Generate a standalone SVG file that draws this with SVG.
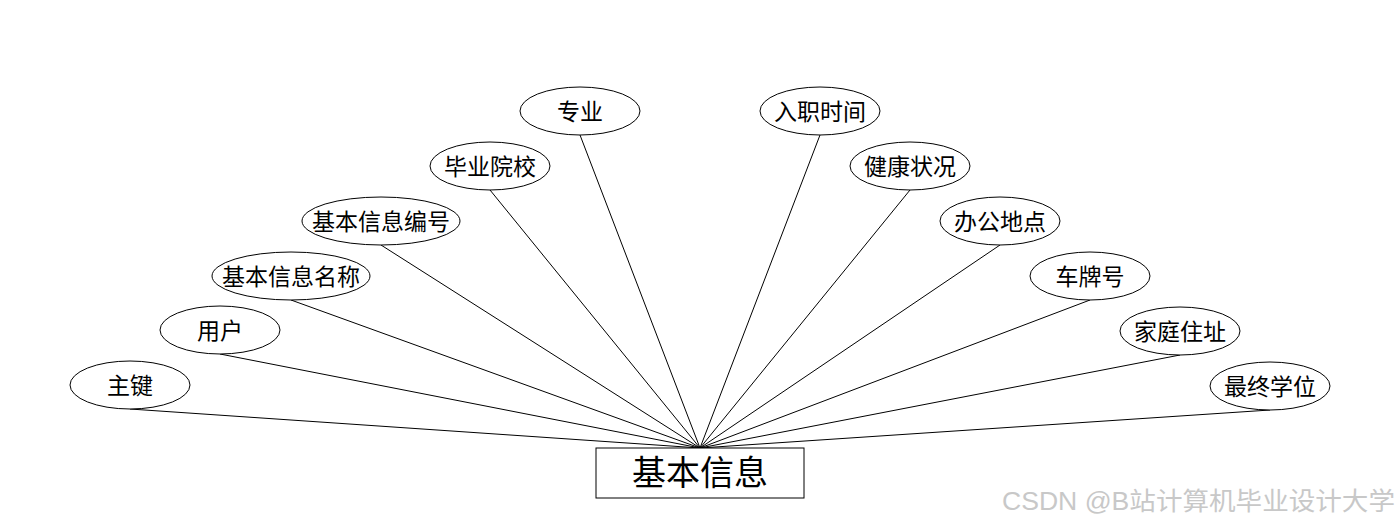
<svg xmlns="http://www.w3.org/2000/svg" width="1400" height="528" viewBox="0 0 1400 528">
<style>
.e{fill:#fff;stroke:#000;stroke-width:1}
.t{font-family:"Liberation Sans","Noto Sans CJK SC",sans-serif;font-size:23px;fill:#000;text-anchor:middle;dominant-baseline:central}
.c{stroke:#000;stroke-width:1;fill:none}
</style>
<rect width="1400" height="528" fill="#fff"/>
<g id="connectors">
<line class="c" x1="130" y1="409" x2="700" y2="448"/>
<line class="c" x1="220" y1="354" x2="700" y2="448"/>
<line class="c" x1="291" y1="300" x2="700" y2="448"/>
<line class="c" x1="381" y1="245" x2="700" y2="448"/>
<line class="c" x1="490" y1="190" x2="700" y2="448"/>
<line class="c" x1="580" y1="135" x2="700" y2="448"/>
<line class="c" x1="820" y1="135" x2="700" y2="448"/>
<line class="c" x1="910" y1="190" x2="700" y2="448"/>
<line class="c" x1="1000" y1="245" x2="700" y2="448"/>
<line class="c" x1="1090" y1="300" x2="700" y2="448"/>
<line class="c" x1="1180" y1="355" x2="700" y2="448"/>
<line class="c" x1="1270" y1="410" x2="700" y2="448"/>
</g>
<g id="n-main"><rect x="596" y="448" width="208" height="50" fill="#fff" stroke="#000"/><text x="700" y="473" class="t" style="font-size:34px">基本信息</text></g>
<g id="n1"><ellipse class="e" cx="130" cy="385" rx="60" ry="24"/><text class="t" x="130" y="386">主键</text></g>
<g id="n2"><ellipse class="e" cx="220" cy="330" rx="60" ry="24"/><text class="t" x="220" y="331">用户</text></g>
<g id="n3"><ellipse class="e" cx="291" cy="276" rx="79" ry="24"/><text class="t" x="291" y="277">基本信息名称</text></g>
<g id="n4"><ellipse class="e" cx="381" cy="221" rx="79" ry="24"/><text class="t" x="381" y="222">基本信息编号</text></g>
<g id="n5"><ellipse class="e" cx="490" cy="166" rx="60" ry="24"/><text class="t" x="490" y="167">毕业院校</text></g>
<g id="n6"><ellipse class="e" cx="580" cy="111" rx="60" ry="24"/><text class="t" x="580" y="112">专业</text></g>
<g id="n7"><ellipse class="e" cx="820" cy="111" rx="60" ry="24"/><text class="t" x="820" y="112">入职时间</text></g>
<g id="n8"><ellipse class="e" cx="910" cy="166" rx="60" ry="24"/><text class="t" x="910" y="167">健康状况</text></g>
<g id="n9"><ellipse class="e" cx="1000" cy="221" rx="60" ry="24"/><text class="t" x="1000" y="222">办公地点</text></g>
<g id="n10"><ellipse class="e" cx="1090" cy="276" rx="60" ry="24"/><text class="t" x="1090" y="277">车牌号</text></g>
<g id="n11"><ellipse class="e" cx="1180" cy="331" rx="60" ry="24"/><text class="t" x="1180" y="332">家庭住址</text></g>
<g id="n12"><ellipse class="e" cx="1270" cy="386" rx="60" ry="24"/><text class="t" x="1270" y="387">最终学位</text></g>
<text x="1002" y="510" textLength="393" lengthAdjust="spacingAndGlyphs" style="font-family:'Liberation Sans','Noto Sans CJK SC',sans-serif;font-size:25px;fill:#c8c8c8">CSDN @B站计算机毕业设计大学</text>
</svg>
